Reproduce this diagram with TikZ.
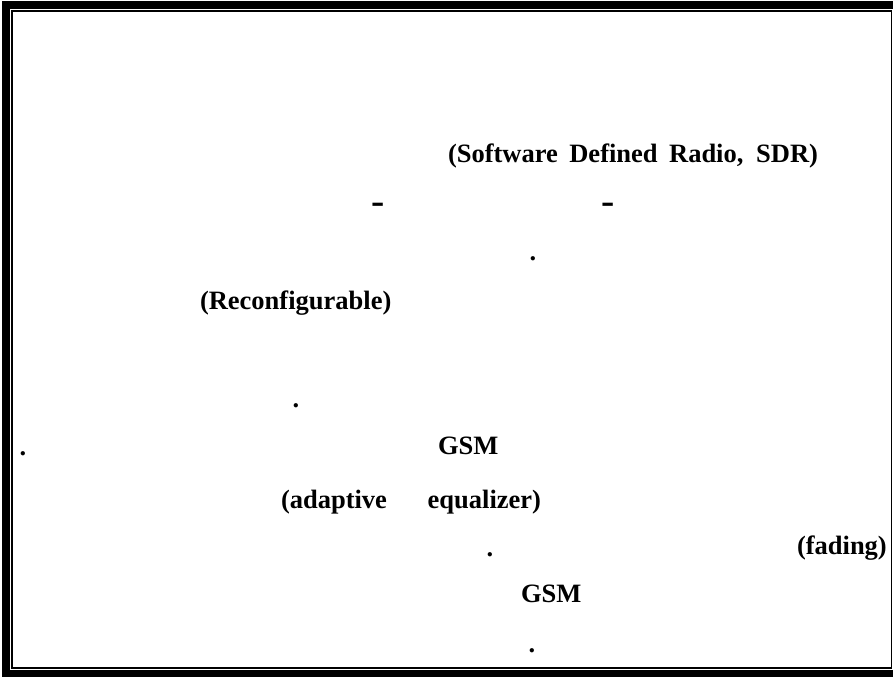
\documentclass[tikz,border=0pt]{standalone}
\usepackage{fontspec}
\setmainfont{Liberation Serif}
\begin{document}
\begin{tikzpicture}[x=1bp,y=-1bp,
  txt/.style={anchor=base west,inner sep=0pt,outer sep=0pt,
    font=\fontsize{26.5bp}{30bp}\selectfont\bfseries},
  dotmark/.style={anchor=base,inner sep=0pt,outer sep=0pt,
    font=\fontsize{26.5bp}{30bp}\selectfont\bfseries}]
\useasboundingbox (0,0) rectangle (893,677);
% thick outer band (left, top, bottom) and inner thin rule
\fill[black] (2,1) rectangle (893,677);
\fill[white] (10,9) rectangle (893,670);
\draw[line width=1.4bp] (12,11) rectangle (891.7,667.8);
% text fragments
\node[txt] (sdr) at (448,163) {\makebox[370bp][s]{(Software Defined Radio, SDR)}};
\node[dotmark] (d1) at (378,213) {\scalebox{1.5}[1.4]{-}};
\node[dotmark] (d2) at (608,213) {\scalebox{1.5}[1.4]{-}};
\node[dotmark] (p1) at (533,260) {.};
\node[txt] (rec) at (200,309) {(Reconfigurable)};
\node[dotmark] (p2) at (296,407) {.};
\node[dotmark] (p3) at (23,455) {.};
\node[txt] (gsm1) at (438,454) {GSM};
\node[txt] (ada) at (281,508) {\makebox[260bp][s]{(adaptive \quad equalizer)}};
\node[dotmark] (p4) at (490,556) {.};
\node[txt] (fad) at (797,554) {(fading)};
\node[txt] (gsm2) at (521,602) {GSM};
\node[dotmark] (p5) at (532,652) {.};
\end{tikzpicture}
\end{document}
